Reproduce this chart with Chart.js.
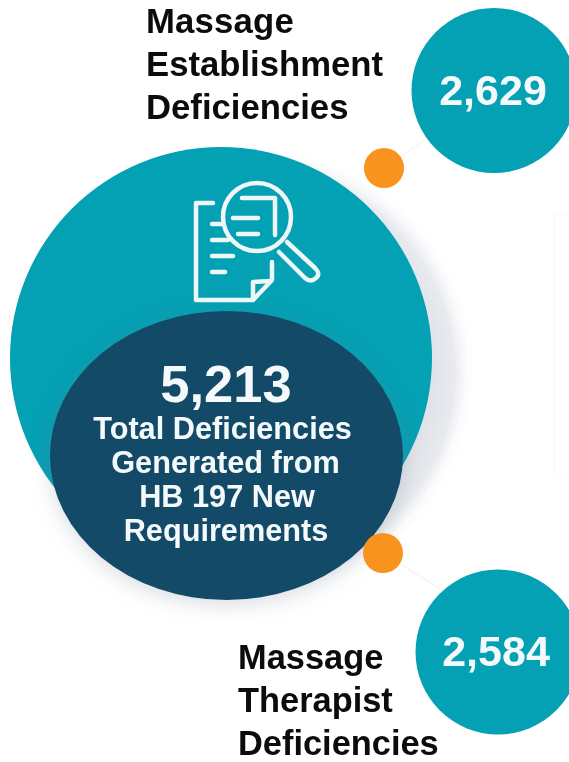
<!DOCTYPE html>
<html>
<head>
<meta charset="utf-8">
<title>HB 197 Deficiencies</title>
<script src="https://cdn.jsdelivr.net/npm/chart.js@4"></script>
<style>
  html, body { margin: 0; padding: 0; background: #fff; overflow: hidden; }
  canvas { display: block; }
</style>
</head>
<body>
<canvas id="myChart" width="569" height="762"></canvas>
<script>
// values
const categories = ['Massage Establishment Deficiencies', 'Total Deficiencies', 'Massage Therapist Deficiencies'];
const values = [2629, 5213, 2584];
const establishmentLabel = ['Massage', 'Establishment', 'Deficiencies'];
const therapistLabel = ['Massage', 'Therapist', 'Deficiencies'];
const totalLabel = ['Total Deficiencies', 'Generated from', 'HB 197 New', 'Requirements'];

const TEAL = '#04a0b3';
const DARK = '#134a68';
const ORANGE = '#f7931e';

// the picture has no axes, so bubbles sit on hidden pixel sized scales
const spots = {
  establishment: { x: 494, y: 90.5, r: 82.5 },
  total: { x: 221, y: 358, r: 211 },
  therapist: { x: 498, y: 652, r: 82.5 },
  dotTop: { x: 384, y: 168, r: 20 },
  dotBottom: { x: 383, y: 553, r: 20 },
  core: { x: 226.5, y: 455.5, r: 144 },
  glow: { x: 250, y: 372, r: 227 },
  ring: { x: 221, y: 358, r: 247 }
};

// dark oval behind the total, bubbles can only be round
function ovalStyle(w, h, color) {
  const c = document.createElement('canvas');
  c.width = w;
  c.height = h;
  const g = c.getContext('2d');
  g.fillStyle = color;
  g.beginPath();
  g.ellipse(w / 2, h / 2, w / 2, h / 2, 0, 0, Math.PI * 2);
  g.fill();
  return c;
}

const ctx = document.getElementById('myChart').getContext('2d');

const glowFill = ctx.createRadialGradient(spots.glow.x, spots.glow.y, 170, spots.glow.x, spots.glow.y, spots.glow.r);
glowFill.addColorStop(0, '#dcdfe6');
glowFill.addColorStop(0.6, '#e8eaef');
glowFill.addColorStop(1, 'rgba(255,255,255,0)');

function drawLines(c, pts) {
  c.beginPath();
  pts.forEach((p, i) => (i ? c.lineTo(p[0], p[1]) : c.moveTo(p[0], p[1])));
  c.stroke();
}

function drawIcon(c) {
  c.save();
  c.strokeStyle = '#eef6f8';
  c.lineWidth = 4.5;
  c.lineCap = 'round';
  c.lineJoin = 'round';
  // page
  drawLines(c, [[213, 203], [196, 203], [196, 300], [253, 300], [272, 280], [272, 262]]);
  drawLines(c, [[253, 300], [253, 282], [270, 281]]);
  drawLines(c, [[212, 224], [222, 224]]);
  drawLines(c, [[212, 240], [228, 240]]);
  drawLines(c, [[212, 256], [233, 256]]);
  drawLines(c, [[212, 272], [225, 272]]);
  // lens
  c.beginPath();
  c.arc(257, 217, 34, 0, Math.PI * 2);
  c.stroke();
  drawLines(c, [[242, 198], [275, 198], [275, 235]]);
  drawLines(c, [[233, 218], [258, 218]]);
  drawLines(c, [[238, 234], [258, 234]]);
  // handle, rounded at the far end
  c.beginPath();
  c.moveTo(287, 242);
  c.lineTo(315, 268);
  c.quadraticCurveTo(321, 274, 316, 278);
  c.quadraticCurveTo(311, 283, 305, 278);
  c.lineTo(279, 252);
  c.stroke();
  c.restore();
}

function drawText(c, text, x, y, font, color, align, spacing) {
  c.font = font;
  c.fillStyle = color;
  c.textAlign = align;
  c.letterSpacing = (spacing || 0) + 'px';
  c.fillText(text, x, y);
  c.letterSpacing = '0px';
}

const labelPlugin = {
  id: 'labelPlugin',
  beforeDatasetDraw(chart, args) {
    const ds = chart.data.datasets[args.index];
    if (ds.softShadow) {
      chart.ctx.save();
      chart.ctx.shadowColor = 'rgba(110,120,145,0.25)';
      chart.ctx.shadowBlur = 20;
      chart.ctx.shadowOffsetY = 5;
    }
  },
  afterDatasetDraw(chart, args) {
    const ds = chart.data.datasets[args.index];
    if (ds.softShadow) chart.ctx.restore();
  },
  afterDraw(chart) {
    const c = chart.ctx;
    drawIcon(c);
    const fmt = v => v.toLocaleString('en-US');
    const bold = px => 'bold ' + px + 'px "Liberation Sans", Arial, sans-serif';

    drawText(c, fmt(values[0]), 493, 105, bold(43), '#f4fafb', 'center');
    drawText(c, fmt(values[2]), 496, 666, bold(43), '#f4fafb', 'center');
    drawText(c, fmt(values[1]), 226, 402, bold(52.5), '#f4fafb', 'center');

    const centers = [222.5, 225.5, 227, 226];
    totalLabel.forEach((t, i) => drawText(c, t, centers[i], 439 + i * 34, bold(30.7), '#f4fafb', 'center'));

    establishmentLabel.forEach((t, i) => drawText(c, t, 146, 33 + i * 43, bold(34.7), '#0c0c0c', 'left', i === 0 ? 0.2 : 0));
    therapistLabel.forEach((t, i) => drawText(c, t, 238, 669 + i * 43, bold(34.4), '#0c0c0c', 'left'));
  }
};

new Chart(ctx, {
  type: 'bubble',
  data: {
    datasets: [
      { label: 'glow', data: [spots.glow], backgroundColor: glowFill, borderWidth: 0, order: 9 },
      { label: 'ring', data: [spots.ring], backgroundColor: 'rgba(0,0,0,0)', borderColor: 'rgba(255,255,255,0.7)', borderWidth: 1.5, order: 8 },
      { type: 'scatter', label: 'links', showLine: true, data: [{ x: 384, y: 168 }, { x: 425, y: 140 }], borderColor: '#f7f7f7', borderWidth: 2, pointRadius: 0, order: 7 },
      { type: 'scatter', label: 'links', showLine: true, data: [{ x: 383, y: 553 }, { x: 445, y: 592 }], borderColor: '#f6f6f6', borderWidth: 2, pointRadius: 0, order: 7 },
      { type: 'scatter', label: 'frame', showLine: true, data: [{ x: 569, y: 215 }, { x: 554, y: 215 }, { x: 554, y: 477 }, { x: 569, y: 477 }], borderColor: '#fafafa', borderWidth: 1, pointRadius: 0, order: 7 },
      { label: categories[0], data: [{ ...spots.establishment, v: values[0] }], backgroundColor: TEAL, borderWidth: 0, order: 6 },
      { label: categories[2], data: [{ ...spots.therapist, v: values[2] }], backgroundColor: TEAL, borderWidth: 0, order: 6 },
      { label: categories[1], data: [{ ...spots.total, v: values[1] }], backgroundColor: TEAL, borderWidth: 0, order: 5 },
      { label: 'core', data: [spots.core], pointStyle: ovalStyle(353, 289, DARK), softShadow: true, order: 4 },
      { label: 'dots', data: [spots.dotTop, spots.dotBottom], backgroundColor: ORANGE, borderWidth: 0, order: 3 }
    ]
  },
  options: {
    responsive: false,
    animation: false,
    layout: { padding: 0, autoPadding: false },
    scales: {
      x: { type: 'linear', display: false, min: 0, max: 569 },
      y: { type: 'linear', display: false, min: 0, max: 762, reverse: true }
    },
    plugins: {
      legend: { display: false },
      tooltip: { enabled: false }
    }
  },
  plugins: [labelPlugin]
});
</script>
</body>
</html>
